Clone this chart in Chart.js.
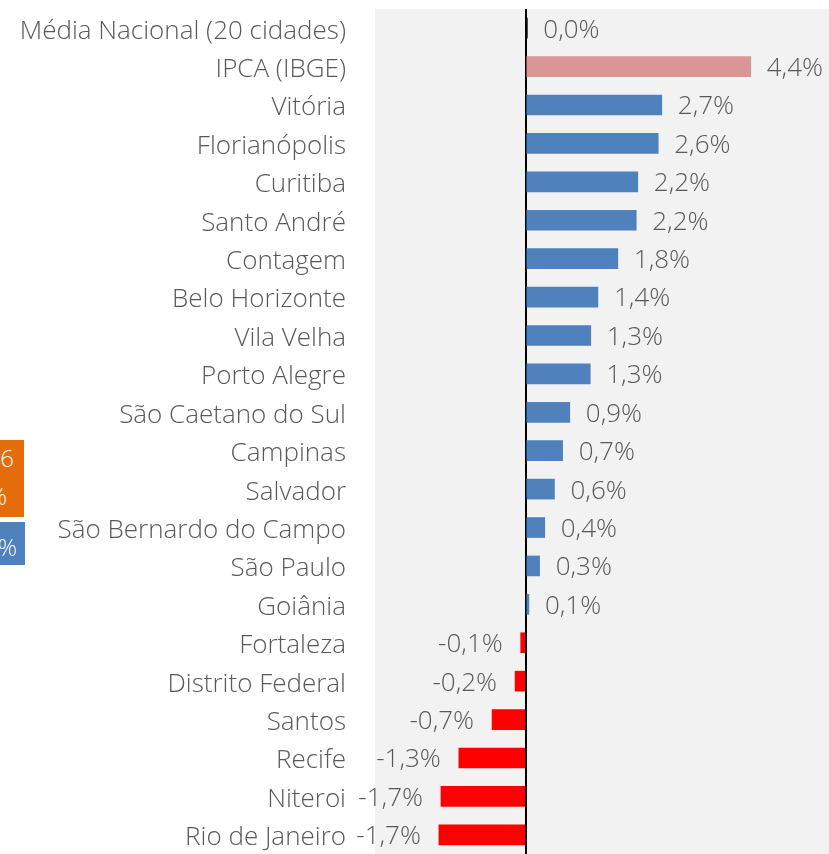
<!DOCTYPE html>
<html>
<head>
<meta charset="utf-8">
<script src="https://cdn.jsdelivr.net/npm/chart.js@4.4.0/dist/chart.umd.min.js"></script>
<style>
  html, body { margin: 0; padding: 0; background: #fff; overflow: hidden; }
  #wrap { position: relative; width: 829px; height: 854px; }
  .box { position: absolute; left: 0; overflow: hidden; color: #fff;
         font-family: "Open Sans", sans-serif; font-weight: 300; font-size: 24px; }
  .box span { position: absolute; white-space: nowrap; line-height: 24px; }
</style>
</head>
<body>
<div id="wrap">
  <canvas id="barChart" width="829" height="854"></canvas>
  <div class="box" style="top:440px;width:24px;height:77px;background:#E46C0A;">
    <span style="right:10px;top:6px;">1,6</span>
    <span style="right:17px;top:44px;">%</span>
  </div>
  <div class="box" style="top:522px;width:25px;height:43px;background:#4F81BD;">
    <span style="right:8px;top:13px;">%</span>
  </div>
</div>
<script>
const cities = [
  "Média Nacional (20 cidades)", "IPCA (IBGE)", "Vitória", "Florianópolis",
  "Curitiba", "Santo André", "Contagem", "Belo Horizonte", "Vila Velha",
  "Porto Alegre", "São Caetano do Sul", "Campinas", "Salvador",
  "São Bernardo do Campo", "São Paulo", "Goiânia", "Fortaleza",
  "Distrito Federal", "Santos", "Recife", "Niteroi", "Rio de Janeiro"
];

// variação (%)
const values = [
  0.03, 4.4, 2.66, 2.59, 2.19, 2.16, 1.8, 1.41, 1.27, 1.26, 0.86, 0.72,
  0.56, 0.37, 0.27, 0.06, -0.1, -0.21, -0.66, -1.31, -1.66, -1.7
];

const barColors = values.map((v, i) => {
  if (i === 0) return "#000000";
  if (i === 1) return "#DA9694";
  return v >= 0 ? "#4F81BD" : "#FF0000";
});

const TEXT_COLOR = "#595959";
const FONT = "'Open Sans', sans-serif";

const plotBg = {
  id: "plotBg",
  beforeDraw(chart) {
    const { ctx, chartArea } = chart;
    ctx.save();
    ctx.fillStyle = "#F2F2F2";
    ctx.fillRect(chartArea.left, chartArea.top, chartArea.right - chartArea.left, chartArea.bottom - chartArea.top);
    ctx.restore();
  }
};

const valueLabels = {
  id: "valueLabels",
  afterDatasetsDraw(chart) {
    const { ctx } = chart;
    const meta = chart.getDatasetMeta(0);
    ctx.save();
    ctx.font = "300 26px " + FONT;
    ctx.fillStyle = TEXT_COLOR;
    ctx.textBaseline = "middle";
    meta.data.forEach((bar, i) => {
      const v = values[i];
      const txt = v.toFixed(1).replace(".", ",") + "%";
      if (v >= 0) {
        ctx.textAlign = "left";
        ctx.fillText(txt, bar.x + 16, bar.y + 2);
      } else {
        ctx.textAlign = "right";
        ctx.fillText(txt, bar.x - 18, bar.y + 2);
      }
    });
    ctx.restore();
  }
};

const ctx = document.getElementById("barChart").getContext("2d");
new Chart(ctx, {
  type: "bar",
  data: {
    labels: cities,
    datasets: [{
      data: values,
      backgroundColor: barColors,
      barThickness: 20,
      borderWidth: 0
    }]
  },
  options: {
    indexAxis: "y",
    responsive: false,
    animation: false,
    layout: { padding: { top: 9, bottom: 0, left: 0, right: 0 } },
    plugins: { legend: { display: false }, tooltip: { enabled: false } },
    scales: {
      x: {
        min: -2.95,
        max: 5.93,
        afterFit(scale) {
          scale.height = 0;
          scale.paddingLeft = 0;
          scale.paddingRight = 0;
        },
        ticks: { display: false, stepSize: 1 },
        border: { display: false },
        grid: {
          drawTicks: false,
          lineWidth: 2,
          color: (c) => (c.tick && c.tick.value === 0 ? "#000000" : "rgba(0,0,0,0)")
        }
      },
      y: {
        afterFit(scale) {
          scale.width = 375;
          scale.paddingTop = 0;
          scale.paddingBottom = 0;
        },
        border: { display: false },
        grid: { display: false, drawTicks: false },
        ticks: {
          color: TEXT_COLOR,
          padding: 29,
          labelOffset: 3,
          autoSkip: false,
          font: { family: FONT, size: 26, weight: 300 }
        }
      }
    }
  },
  plugins: [plotBg, valueLabels]
});
</script>
</body>
</html>
